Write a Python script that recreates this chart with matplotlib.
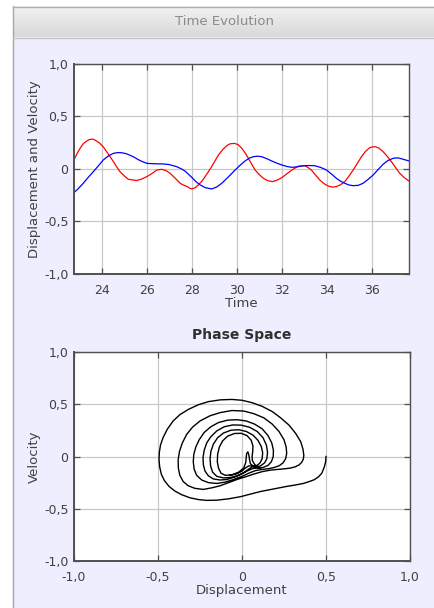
import numpy as np
import matplotlib
matplotlib.use('Agg')
from matplotlib import pyplot as plt
from matplotlib.patches import Rectangle
from matplotlib.lines import Line2D
from matplotlib.colors import LinearSegmentedColormap

# time window
vel_time = [22.77, 22.9, 23.04, 23.18, 23.33, 23.45, 23.6, 23.75, 23.92, 24.07,
            24.22, 24.37, 24.52, 24.66, 24.81, 25.0, 25.18, 25.4, 25.55, 25.78,
            26.0, 26.22, 26.44, 26.66, 26.85, 27.03, 27.25, 27.48, 27.65, 27.8,
            27.9, 28.0, 28.15, 28.29, 28.45, 28.59, 28.88, 29.03, 29.18, 29.37,
            29.55, 29.7, 29.89, 30.05, 30.22, 30.37, 30.51, 30.66, 30.81, 31.0,
            31.18, 31.38, 31.58, 31.8, 32.0, 32.22, 32.44, 32.7, 33.0, 33.15,
            33.31, 33.5, 33.68, 33.87, 34.05, 34.23, 34.42, 34.6, 34.79, 34.97,
            35.16, 35.35, 35.53, 35.72, 35.9, 36.0, 36.15, 36.3, 36.49, 36.68,
            36.86, 37.05, 37.23, 37.42, 37.64]
velocity = [0.086, 0.145, 0.197, 0.24, 0.266, 0.28, 0.285, 0.27, 0.244, 0.21,
            0.165, 0.118, 0.07, 0.022, -0.025, -0.065, -0.098, -0.105, -0.11, -0.095,
            -0.073, -0.045, -0.01, -0.003, -0.015, -0.04, -0.085, -0.136, -0.155, -0.168,
            -0.182, -0.19, -0.178, -0.152, -0.115, -0.073, 0.022, 0.078, 0.133, 0.185,
            0.222, 0.24, 0.244, 0.232, 0.197, 0.152, 0.102, 0.045, -0.01, -0.055,
            -0.089, -0.112, -0.12, -0.105, -0.082, -0.045, -0.01, 0.025, 0.033, 0.015,
            -0.01, -0.06, -0.105, -0.14, -0.162, -0.172, -0.168, -0.15, -0.12, -0.07,
            -0.01, 0.055, 0.117, 0.17, 0.203, 0.21, 0.212, 0.2, 0.165, 0.12,
            0.07, 0.012, -0.041, -0.08, -0.115]

disp_time = [22.77, 22.97, 23.18, 23.4, 23.63, 23.85, 24.07, 24.3, 24.52, 24.7,
             24.89, 25.1, 25.4, 25.7, 26.0, 26.3, 26.74, 27.0, 27.33, 27.55,
             27.7, 27.85, 28.0, 28.18, 28.36, 28.6, 28.88, 29.1, 29.33, 29.6,
             29.92, 30.14, 30.36, 30.55, 30.73, 30.92, 31.1, 31.33, 31.55, 31.78,
             32.0, 32.22, 32.44, 32.66, 32.88, 33.17, 33.46, 33.72, 33.98, 34.2,
             34.42, 34.6, 34.79, 34.97, 35.16, 35.4, 35.6, 35.82, 36.05, 36.27,
             36.49, 36.7, 36.94, 37.1, 37.23, 37.42, 37.64]
displacement = [-0.225, -0.185, -0.136, -0.08, -0.025, 0.03, 0.086, 0.125, 0.149, 0.156,
                0.155, 0.145, 0.117, 0.08, 0.054, 0.05, 0.048, 0.042, 0.022, 0.0,
                -0.02, -0.05, -0.08, -0.12, -0.15, -0.178, -0.19, -0.172, -0.136, -0.08,
                -0.01, 0.035, 0.076, 0.103, 0.117, 0.122, 0.117, 0.098, 0.076, 0.055,
                0.038, 0.024, 0.016, 0.02, 0.029, 0.033, 0.031, 0.015, -0.01, -0.048,
                -0.089, -0.116, -0.136, -0.152, -0.159, -0.155, -0.136, -0.1, -0.057, -0.005,
                0.045, 0.08, 0.102, 0.106, 0.102, 0.09, 0.077]

# phase space trajectory: starts at (0.5, 0) and spirals in clockwise
phase_x = [
    # outer loop
    0.500, 0.498, 0.49, 0.475, 0.455, 0.43, 0.40, 0.365, 0.32, 0.27,
    0.19, 0.11, 0.05, -0.01, -0.08, -0.15, -0.21, -0.26, -0.31, -0.36,
    -0.40, -0.435, -0.462, -0.48, -0.49, -0.494, -0.492, -0.485, -0.47, -0.445,
    -0.41, -0.37, -0.32, -0.26, -0.2, -0.13, -0.06, 0.0, 0.06, 0.12,
    0.18, 0.23, 0.28, 0.32, 0.35, 0.363, 0.368, 0.365, 0.356, 0.34,
    0.318, 0.29, 0.258, 0.22, 0.17, 0.12, 0.07, 0.02, -0.03, -0.08,
    -0.13, -0.18,
    # second loop
    -0.23, -0.28, -0.32, -0.35, -0.37, -0.379, -0.38, -0.372, -0.355, -0.33,
    -0.295, -0.25, -0.19, -0.13, -0.06, 0.01, 0.07, 0.13, 0.18, 0.22,
    0.25, 0.263, 0.266, 0.26, 0.245, 0.222, 0.19, 0.155, 0.115, 0.08,
    0.04, 0.0, -0.05, -0.1,
    # third loop
    -0.15, -0.2, -0.24, -0.27, -0.285, -0.29, -0.287, -0.275, -0.255, -0.225,
    -0.185, -0.14, -0.085, -0.03, 0.025, 0.075, 0.12, 0.155, 0.177, 0.187,
    0.186, 0.175, 0.155, 0.125, 0.095, 0.065, 0.035, 0.0, -0.04, -0.09,
    # fourth loop
    -0.13, -0.17, -0.2, -0.22, -0.23, -0.232, -0.225, -0.21, -0.185, -0.15,
    -0.105, -0.055, -0.005, 0.045, 0.09, 0.125, 0.145, 0.152, 0.148, 0.135,
    0.11, 0.085, 0.06, 0.04, 0.015, -0.02, -0.065, -0.11,
    # fifth loop
    -0.15, -0.175, -0.187, -0.19, -0.185, -0.17, -0.145, -0.11, -0.065, -0.02,
    0.025, 0.065, 0.095, 0.115, 0.123, 0.12, 0.108, 0.09, 0.07, 0.05,
    0.045, 0.04, 0.035, 0.028, 0.025, 0.022, 0.01, -0.02, -0.06, -0.1,
    # innermost loop
    -0.125, -0.14, -0.147, -0.145, -0.135, -0.115, -0.085, -0.045, -0.005, 0.03,
    0.055, 0.065, 0.064, 0.06, 0.062, 0.075, 0.095, 0.11, 0.09, 0.065,
    0.04, 0.02, 0.0, -0.03, -0.07]
phase_v = [
    0.0, -0.05, -0.10, -0.16, -0.195, -0.222, -0.24, -0.258, -0.272, -0.285,
    -0.31, -0.335, -0.36, -0.385, -0.405, -0.418, -0.42, -0.412, -0.395, -0.365,
    -0.33, -0.285, -0.23, -0.17, -0.10, -0.03, 0.04, 0.11, 0.18, 0.26,
    0.34, 0.40, 0.45, 0.495, 0.525, 0.542, 0.546, 0.538, 0.515, 0.48,
    0.43, 0.37, 0.30, 0.22, 0.14, 0.07, 0.01, -0.025, -0.055, -0.08,
    -0.098, -0.11, -0.117, -0.123, -0.13, -0.145, -0.168, -0.195, -0.22, -0.25,
    -0.28, -0.30,
    -0.315, -0.305, -0.28, -0.24, -0.18, -0.11, -0.03, 0.05, 0.13, 0.21,
    0.28, 0.34, 0.39, 0.42, 0.44, 0.435, 0.41, 0.37, 0.31, 0.24,
    0.16, 0.09, 0.03, -0.02, -0.06, -0.088, -0.106, -0.117, -0.125, -0.135,
    -0.16, -0.19, -0.22, -0.245,
    -0.258, -0.25, -0.225, -0.18, -0.12, -0.05, 0.02, 0.09, 0.16, 0.23,
    0.285, 0.325, 0.348, 0.352, 0.34, 0.31, 0.265, 0.2, 0.13, 0.06,
    0.0, -0.05, -0.085, -0.105, -0.11, -0.115, -0.135, -0.165, -0.195, -0.22,
    -0.225, -0.215, -0.185, -0.14, -0.08, -0.01, 0.06, 0.13, 0.19, 0.245,
    0.285, 0.302, 0.30, 0.28, 0.24, 0.18, 0.11, 0.04, -0.02, -0.06,
    -0.09, -0.10, -0.10, -0.12, -0.15, -0.18, -0.20, -0.205,
    -0.19, -0.15, -0.09, -0.02, 0.05, 0.12, 0.18, 0.225, 0.252, 0.256,
    0.24, 0.205, 0.155, 0.095, 0.035, -0.02, -0.06, -0.085, -0.095, -0.07,
    -0.03, 0.02, 0.045, 0.03, -0.01, -0.06, -0.11, -0.15, -0.175, -0.18,
    -0.16, -0.11, -0.05, 0.02, 0.09, 0.15, 0.195, 0.22, 0.222, 0.2,
    0.155, 0.1, 0.05, 0.0, -0.04, -0.075, -0.1, -0.113, -0.105, -0.09,
    -0.09, -0.11, -0.14, -0.165, -0.18]

val_ticks = [-1.0, -0.5, 0, 0.5, 1.0]
val_labels = ['-1,0', '-0,5', '0', '0,5', '1,0']
time_ticks = [24, 26, 28, 30, 32, 34, 36]

W, H = 435, 608
TXT = '#404040'


def box(l, t, r, b):
    # pixel box (from top-left) -> figure fraction rect
    return [l / W, 1 - b / H, (r - l) / W, (b - t) / H]


def style(ax):
    ax.set_facecolor('white')
    ax.grid(True, color='#c8c8c8', lw=0.9)
    ax.set_axisbelow(True)
    for s in ax.spines.values():
        s.set_color('#505050')
        s.set_linewidth(1.0)
    ax.spines['left'].set_linewidth(1.4)
    ax.spines['bottom'].set_linewidth(1.4)
    ax.tick_params(direction='in', length=4, width=0.9, color='#505050',
                   labelsize=9, labelcolor=TXT, pad=4,
                   top=True, right=True)
    ax.tick_params(axis='x', pad=7)
    ax.set_ylim(-1.0, 1.0)
    ax.set_yticks(val_ticks)
    ax.set_yticklabels(val_labels)


fig = plt.figure(figsize=(W / 100, H / 100), dpi=100, facecolor='white')

# window body and title bar
fig.add_artist(Rectangle((13 / W, 0), 1, 1 - 37 / H, transform=fig.transFigure,
                         facecolor='#eeeeff', edgecolor='none', zorder=-10))
fig.add_artist(Line2D([13.5 / W, 13.5 / W], [0, 1 - 6 / H], transform=fig.transFigure,
                      color='#a6a6a6', lw=1.0, zorder=-5))
bar = fig.add_axes(box(14, 6, W, 37), zorder=-8)
grad = np.linspace(0, 1, 40).reshape(-1, 1)
bar.imshow(grad, aspect='auto', extent=[0, 1, 0, 1],
           cmap=LinearSegmentedColormap.from_list('bar', ['#f2f2f2', '#d9d9d9']))
bar.set_axis_off()
fig.add_artist(Line2D([13 / W, 1], [1 - 6.5 / H, 1 - 6.5 / H], transform=fig.transFigure,
                      color='#b0b0b0', lw=1.0, zorder=-5))
fig.add_artist(Line2D([13 / W, 1], [1 - 37.5 / H, 1 - 37.5 / H], transform=fig.transFigure,
                      color='#c4c4c4', lw=1.0, zorder=-5))
fig.text(225 / W, 1 - 21.5 / H, 'Time Evolution', ha='center', va='center',
         fontsize=9.5, color='#8a8a8a')

# time evolution
ax1 = fig.add_axes(box(74, 64, 409, 274))
style(ax1)
ax1.plot(vel_time, velocity, color='#ff0000', lw=0.9)
ax1.plot(disp_time, displacement, color='#0000ff', lw=0.9)
ax1.set_xlim(22.77, 37.64)
ax1.set_xticks(time_ticks)
ax1.set_xlabel('Time', fontsize=9.5, color=TXT, labelpad=0.5)
ax1.set_ylabel('Displacement and Velocity', fontsize=9.5, color=TXT, labelpad=2)

# phase space
ax2 = fig.add_axes(box(74, 352, 410, 561))
style(ax2)
ax2.plot(phase_x, phase_v, color='black', lw=1.0)
ax2.set_xlim(-1.0, 1.0)
ax2.set_xticks(val_ticks)
ax2.set_xticklabels(val_labels)
ax2.set_xlabel('Displacement', fontsize=9.5, color=TXT, labelpad=0.5)
ax2.set_ylabel('Velocity', fontsize=9.5, color=TXT, labelpad=2)
ax2.set_title('Phase Space', fontsize=10, fontweight='bold', color='#303030', pad=9)

fig.savefig('out.png', dpi=100, facecolor='white')
